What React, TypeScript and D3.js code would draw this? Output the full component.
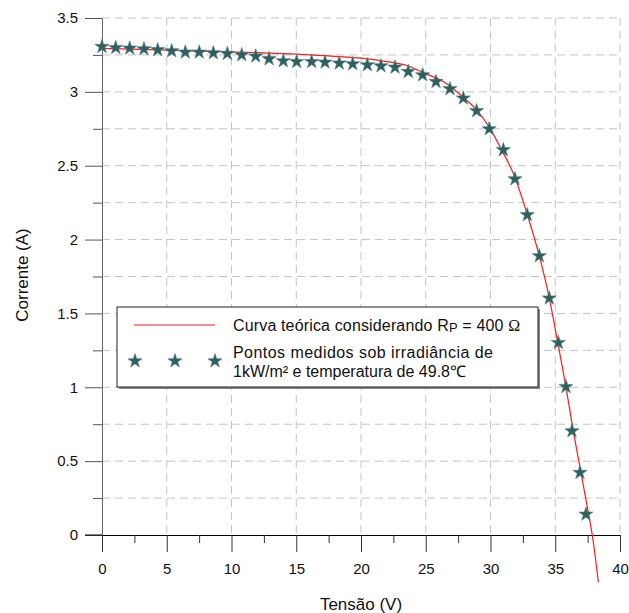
import React, { useEffect, useRef } from 'react';
import * as d3 from 'd3';

// pontos medidos (tensão em V, corrente em A)
const measuredV = [0, 1.06, 2.14, 3.24, 4.3, 5.38, 6.43, 7.51, 8.6, 9.68, 10.79, 11.87, 12.9, 14.0, 15.03, 16.19, 17.22, 18.32, 19.36, 20.49, 21.54, 22.63, 23.65, 24.76, 25.79, 26.87, 27.9, 28.93, 29.9, 30.99, 31.89, 32.84, 33.77, 34.54, 35.24, 35.83, 36.29, 36.91, 37.37];
const measuredI = [3.306, 3.299, 3.295, 3.29, 3.284, 3.277, 3.268, 3.268, 3.263, 3.259, 3.25, 3.241, 3.223, 3.209, 3.204, 3.204, 3.2, 3.194, 3.189, 3.182, 3.175, 3.166, 3.137, 3.114, 3.069, 3.02, 2.957, 2.871, 2.749, 2.607, 2.41, 2.167, 1.889, 1.603, 1.302, 1.004, 0.704, 0.422, 0.14];

// curva teórica
const curveV = [0, 3, 6, 9, 12, 15, 18, 20, 22, 23.5, 24.8, 26.35, 27.9, 28.93, 29.96, 30.86, 31.76, 32.84, 33.77, 34.55, 35.2, 35.83, 36.39, 36.99, 37.58, 37.86, 38.33];
const curveI = [3.295, 3.287, 3.28, 3.273, 3.265, 3.255, 3.24, 3.228, 3.205, 3.18, 3.13, 3.07, 2.963, 2.878, 2.753, 2.607, 2.449, 2.17, 1.889, 1.6, 1.3, 1.0, 0.706, 0.42, 0.14, 0.0, -0.32];

const xMajor = [0, 5, 10, 15, 20, 25, 30, 35, 40];
const xMinor = [2.5, 7.5, 12.5, 17.5, 22.5, 27.5, 32.5, 37.5];
const yMajor = [0, 0.5, 1, 1.5, 2, 2.5, 3, 3.5];
const yMinor = [0.25, 0.75, 1.25, 1.75, 2.25, 2.75, 3.25];

const FONT = '"Liberation Sans", Arial, sans-serif';
const STAR = '#2f5f5f';

const App = () => {
  const ref = useRef<SVGSVGElement>(null);

  useEffect(() => {
    const svg = d3.select(ref.current);
    svg.selectAll('*').remove();

    const x = d3.scaleLinear().domain([0, 40]).range([102, 620]);
    const y = d3.scaleLinear().domain([0, 3.5]).range([535, 18]);

    // grade tracejada
    const grid = svg.append('g').attr('stroke', '#c4c4c4').attr('stroke-dasharray', '8,5').attr('stroke-width', 1);
    xMajor.filter(d => d > 0).forEach(d => {
      grid.append('line').attr('x1', x(d)).attr('x2', x(d)).attr('y1', y(3.5)).attr('y2', y(0));
    });
    [...yMajor, ...yMinor].filter(d => d > 0).forEach(d => {
      grid.append('line').attr('x1', x(0)).attr('x2', x(40)).attr('y1', y(d)).attr('y2', y(d));
    });

    // eixo y
    const yAxis = svg.append('g').attr('transform', `translate(${x(0)},0)`)
      .call(d3.axisLeft(y).tickValues(yMajor).tickSize(17).tickSizeOuter(0).tickPadding(7).tickFormat(d => String(d)));
    yAxis.select('.domain').attr('stroke', '#666');
    yAxis.selectAll('.tick line').attr('stroke', '#555');
    yAxis.selectAll('text').attr('font-size', 15).attr('font-family', FONT).attr('fill', '#111');
    const yAxisMinor = svg.append('g').attr('transform', `translate(${x(0)},0)`)
      .call(d3.axisLeft(y).tickValues(yMinor).tickSize(9).tickFormat(() => ''));
    yAxisMinor.select('.domain').remove();
    yAxisMinor.selectAll('.tick line').attr('stroke', '#555');

    // eixo x
    const xAxis = svg.append('g').attr('transform', `translate(0,${y(0)})`)
      .call(d3.axisBottom(x).tickValues(xMajor).tickSize(17).tickSizeOuter(0).tickPadding(11).tickFormat(d => String(d)));
    xAxis.select('.domain').attr('stroke', '#000');
    xAxis.selectAll('.tick line').attr('stroke', '#333');
    xAxis.selectAll('text').attr('font-size', 15).attr('font-family', FONT).attr('fill', '#111');
    const xAxisMinor = svg.append('g').attr('transform', `translate(0,${y(0)})`)
      .call(d3.axisBottom(x).tickValues(xMinor).tickSize(8).tickFormat(() => ''));
    xAxisMinor.select('.domain').remove();
    xAxisMinor.selectAll('.tick line').attr('stroke', '#333');

    // redesenha a linha do eixo x por cima do zero do eixo y
    svg.append('line').attr('x1', x(0) - 17).attr('x2', x(0)).attr('y1', y(0)).attr('y2', y(0)).attr('stroke', '#000');

    // títulos
    svg.append('text').attr('x', 361).attr('y', 610).attr('text-anchor', 'middle')
      .attr('font-family', FONT).attr('font-size', 17).attr('fill', '#111').text('Tensão (V)');
    svg.append('text').attr('transform', 'translate(28,275) rotate(-90)').attr('text-anchor', 'middle')
      .attr('font-family', FONT).attr('font-size', 17).attr('fill', '#111').text('Corrente (A)');

    // curva teórica
    const line = d3.line<number>().x((d, i) => x(curveV[i])).y(d => y(d)).curve(d3.curveMonotoneX);
    svg.append('path').attr('d', line(curveI)).attr('fill', 'none').attr('stroke', '#ff1a1a').attr('stroke-width', 1.2);

    // pontos medidos
    const star = d3.symbol().type(d3.symbolStar).size(62);
    svg.append('g').selectAll('path').data(measuredI).enter().append('path')
      .attr('d', star())
      .attr('transform', (d, i) => `translate(${x(measuredV[i])},${y(d)})`)
      .attr('fill', STAR).attr('stroke', '#4a8080').attr('stroke-width', 0.6);

    // legenda
    const lg = svg.append('g');
    lg.append('rect').attr('x', 119).attr('y', 309).attr('width', 421).attr('height', 80).attr('fill', '#888');
    lg.append('rect').attr('x', 117).attr('y', 307).attr('width', 421).attr('height', 80)
      .attr('fill', '#fff').attr('stroke', '#222').attr('stroke-width', 1);
    lg.append('line').attr('x1', 134).attr('x2', 215).attr('y1', 325).attr('y2', 325)
      .attr('stroke', '#ff1a1a').attr('stroke-width', 1.2);
    [135, 175, 215].forEach(cx => {
      lg.append('path').attr('d', star()).attr('transform', `translate(${cx},361)`)
        .attr('fill', STAR).attr('stroke', '#4a8080').attr('stroke-width', 0.6);
    });
    const t1 = lg.append('text').attr('x', 233).attr('y', 331).attr('font-family', FONT).attr('font-size', 16)
      .attr('letter-spacing', 0.15).attr('fill', '#111');
    t1.append('tspan').text('Curva teórica considerando R');
    t1.append('tspan').attr('font-size', 13).attr('dy', 1).text('P');
    t1.append('tspan').attr('dy', -1).text(' = 400 ');
    t1.append('tspan').attr('font-family', '"Liberation Serif", serif').text('Ω');
    lg.append('text').attr('x', 233).attr('y', 358).attr('font-family', FONT).attr('font-size', 16)
      .attr('letter-spacing', 0.45).attr('fill', '#111')
      .text('Pontos medidos sob irradiância de');
    lg.append('text').attr('x', 233).attr('y', 377).attr('font-family', FONT).attr('font-size', 16).attr('fill', '#111')
      .text('1kW/m² e temperatura de 49.8℃');
  }, []);

  return (
    <svg ref={ref} width={629} height={613} style={{ position: 'absolute', left: 0, top: 0, background: '#fff' }} />
  );
};

export default App;
